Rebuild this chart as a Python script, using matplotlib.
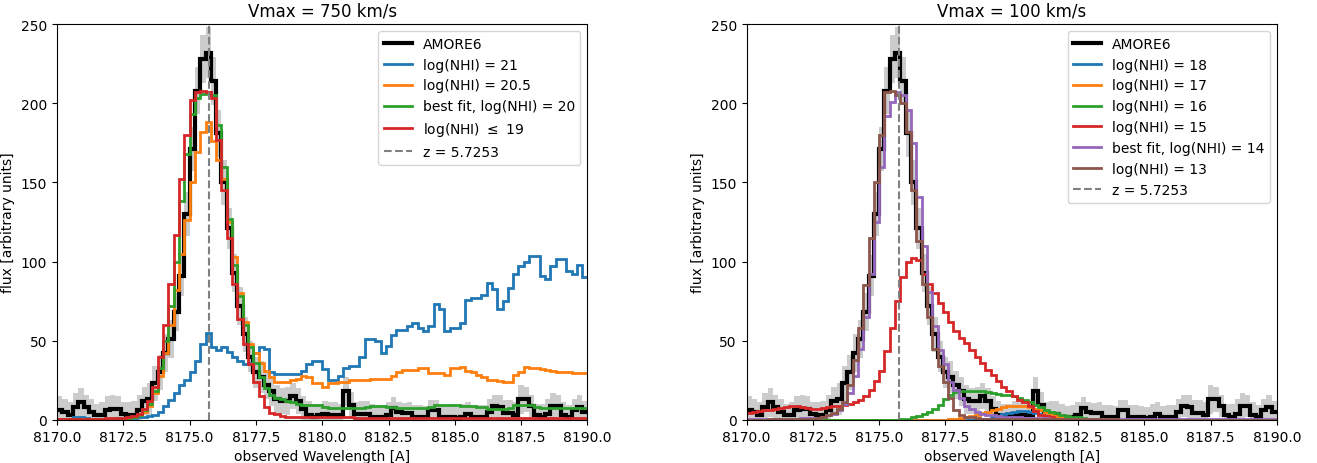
import numpy as np
import matplotlib.pyplot as plt

# wavelength bins (0.2 A wide) from 8170 to 8190
wl_start = 8170.0
bin_width = 0.2
n_bins = 100
edges = wl_start + bin_width * np.arange(n_bins + 1)

z_lya = 5.7253
lya_obs = 1215.67 * (1 + z_lya)

# observed spectrum (same in both panels) and its error
obs = [6, 5, 3, 8, 11, 8, 5, 3, 3, 6,
       7, 7, 4, 3, 3, 6, 12, 13, 23, 30,
       42, 51, 68, 91, 130, 171, 208, 228, 232, 214,
       181, 150, 121, 93, 72, 54, 40, 30, 27, 22,
       18, 13, 12, 12, 15, 12, 7, 3, 2, 3,
       4, 3, 3, 3, 18, 9.5, 4, 4, 4, 2,
       1.5, 1.5, 3, 7.4, 5, 4.5, 4.5, 1.5, 1.5, 1.5,
       6.5, 6.5, 1.5, 1.5, 1.5, 1, 2, 4, 1.5, 1.5,
       1.5, 5, 9, 8, 4.5, 4.5, 3, 13, 13, 9,
       3, 2, 4, 9, 9, 3, 1.5, 6, 8, 5]
err = [9, 8, 8, 9, 9, 8, 8, 7, 8, 9,
       9, 8, 7, 8, 9, 10, 9, 10, 11, 11,
       12, 12, 12, 13, 14, 14, 15, 15, 16, 15,
       15, 14, 13, 12, 12, 11, 10, 10, 10, 9,
       9, 9, 8, 9, 8, 8, 8, 9, 8, 7,
       8, 8, 8, 7, 9, 8, 7, 8, 8, 8,
       7, 8, 8, 7, 6, 6, 7, 8, 8, 7,
       6, 6, 8, 8, 7, 7, 8, 7, 7, 8,
       8, 8, 7, 8, 8, 8, 8, 9, 8, 7,
       7, 8, 9, 8, 7, 8, 8, 7, 8, 7]

# Vmax = 750 km/s models
v750_n21 = [0.5, 0.5, 0.6, 1.5, 1.5, 1, 0.8, 0.7, 0.7, 0.8,
            0.8, 0.9, 1, 1, 1.2, 1.5, 2, 2.5, 3, 5,
            8.5, 12.7, 17, 22, 25, 30, 37, 48, 55, 46,
            44, 46, 43, 40, 37, 35, 36, 42, 46, 45,
            30, 29, 29, 29, 29, 29, 30.7, 35, 37, 37,
            32, 25.4, 25.4, 27.5, 32.8, 33.8, 34, 40, 51, 51,
            49.7, 42.3, 46.5, 53.9, 57, 57, 59, 61.3, 58.2, 56,
            59, 73, 69.8, 56, 58, 58, 61, 76, 77, 77,
            79, 86.7, 82.5, 69.8, 75, 83.5, 92, 97, 100, 103.6,
            103.6, 91, 89, 97, 101.5, 101.5, 94, 92, 98, 90]
v750_n205 = [0.3, 0.3, 0.3, 0.4, 0.4, 0.4, 0.5, 0.5, 0.6, 0.6,
             0.7, 0.8, 1.0, 1.2, 1.5, 3, 5, 9, 17, 28,
             42, 60, 82, 105, 126, 150, 169, 182, 188, 176,
             164, 152, 125, 103, 80, 62, 48, 42, 36, 31,
             27, 24, 24, 24, 25, 26, 27.5, 27, 23.3, 23,
             21, 23, 23, 24, 24, 25, 25, 25, 25, 26,
             26, 26, 26, 28, 30.4, 31.5, 31.5, 31.5, 32.5, 32.5,
             29.6, 29.6, 29.6, 28.5, 32.5, 33, 33.6, 31, 30, 28.5,
             27, 25, 25, 24.5, 24, 24, 28.5, 30, 33.6, 33,
             32.5, 32, 31.5, 31, 30.5, 30.5, 30, 29.6, 29.6, 29.6]
v750_n20 = [0.4, 0.4, 0.4, 0.5, 0.5, 0.5, 0.6, 0.6, 0.7, 0.7,
            0.8, 0.9, 1.0, 1.2, 1.5, 3, 6, 10, 18, 33,
            50, 72, 100, 138, 168, 193, 203, 206, 207, 205,
            186, 160, 127, 98, 78, 60, 46, 36, 27, 20,
            16, 14, 13, 12, 11, 10, 9.5, 9.5, 9.4, 9.2,
            7.8, 7.5, 7.4, 7.5, 7.6, 7.5, 7.4, 7.5, 7.8, 8.5,
            8.6, 8.5, 8.4, 8, 7.6, 7.4, 7.4, 7.5, 7.6, 7.5,
            7.8, 9.2, 9.5, 9.5, 9.4, 9.2, 8.7, 8.5, 8.5, 8.4,
            8.2, 7, 6.8, 6.7, 6.8, 7.2, 9.2, 9.5, 9.5, 9.3,
            8, 7.6, 7.5, 7.4, 7.4, 7.5, 7.6, 7.5, 7.4, 7.5]
v750_n19 = [0.5, 0.5, 0.5, 0.6, 0.6, 0.6, 0.7, 0.7, 0.8, 0.9,
            1.0, 1.2, 1.4, 1.7, 2.5, 4, 7, 12, 21, 40,
            60, 86, 117, 152, 180, 202, 207, 208, 207, 203,
            177, 145, 115, 86, 64, 48, 35, 24, 15, 8,
            4.5, 3.5, 2.5, 2, 1.8, 1.6, 1.5, 1.5, 1.5, 1.5,
            1.5, 1.5, 1.5, 1.5, 1.5, 1.5, 1.4, 1.4, 1.4, 1.4,
            1.4, 1.4, 1.4, 1.4, 1.4, 1.3, 1.3, 1.3, 1.3, 1.3,
            1.3, 1.3, 1.3, 1.3, 1.3, 1.3, 1.3, 1.3, 1.2, 1.2,
            1.2, 1.2, 1.2, 1.2, 1.2, 1.2, 1.2, 1.2, 1.2, 1.2,
            1.2, 1.2, 1.2, 1.2, 1.2, 1.2, 1.2, 1.2, 1.2, 1.2]

# Vmax = 100 km/s models
v100_n18 = [0] * 44 + [0.3, 0.8, 1.5, 2.5, 3.5, 4.5, 5, 5.3, 5.3, 5,
                       4.5, 3.8, 3, 2.3, 1.7, 1.2, 0.9, 0.6, 0.4, 0.3,
                       0.2, 0.1] + [0] * 34
v100_n17 = [0] * 38 + [0.3, 0.5, 1, 1.5, 2.5, 3.2, 4.2, 5, 6, 7,
                       8, 8.5, 9, 9, 8.5, 8, 7, 6, 4.5, 3.5,
                       2.5, 2, 1.5, 1, 0.7, 0.5, 0.3] + [0] * 35
v100_n16 = [0] * 29 + [0.3, 0.8, 1.5, 2.5, 3.5, 5, 7, 9.5, 13, 15.5,
                       17.5, 18.5, 18.5, 18.5, 18.5, 18.3, 17.5, 17, 16.5, 16,
                       15.9, 15, 13.5, 12.7, 11, 9.5, 8, 6.3, 5, 4.2,
                       3, 2.5, 2, 1.5, 1, 0.7, 0.4] + [0] * 34
v100_n15 = [4.5, 5, 5.5, 6, 6.5, 7, 7.5, 8, 8.5, 8.5,
            8, 7.5, 7, 7, 7.5, 8, 8.5, 9, 9.5, 10,
            11, 12.5, 14.8, 19, 24.5, 30.8, 43.5, 58, 75, 90,
            100, 102, 101, 92, 86, 80, 74, 68, 62, 56,
            52, 48.5, 44.4, 40, 36, 31.7, 28.5, 24.3, 21, 18,
            14.8, 12.5, 11, 8.5, 5.3, 3.2, 2.5, 1.7, 0.8, 0.4,
            0.2, 0.1] + [0] * 38
v100_n14 = [0.3, 0.3, 0.3, 0.4, 0.4, 0.4, 0.5, 0.6, 0.7, 0.8,
            0.9, 1, 1, 1.2, 2, 3, 3.5, 6, 10, 17,
            28, 45, 65, 92, 125, 160, 192, 201, 207, 205,
            196, 175, 141, 110, 81, 59, 44, 35, 24, 19,
            14, 9, 7, 5, 4, 3.2, 2.8, 2.4, 2, 1.8,
            1.6, 1.5, 1.3, 1.2, 1.1, 1, 0.9, 0.8, 0.7, 0.6,
            0.5, 0.5, 0.5, 0.5, 0.4, 0.4, 0.4, 0.4, 0.4, 0.4,
            0.4, 0.4, 0.3, 0.3, 0.3, 0.3, 0.3, 0.3, 0.3, 0.3,
            0.3, 0.3, 0.3, 0.3, 0.3, 0.3, 0.3, 0.3, 0.3, 0.3,
            0.3, 0.3, 0.3, 0.3, 0.3, 0.3, 0.3, 0.3, 0.3, 0.3]
v100_n13 = [0.2, 0.2, 0.2, 0.2, 0.3, 0.3, 0.3, 0.3, 0.4, 0.4,
            0.5, 0.6, 0.8, 1, 1.7, 3.2, 4.5, 7, 11, 22,
            38, 58, 85, 115, 150, 180, 207, 208, 205, 200,
            182, 145, 113, 86, 65, 45, 34, 24, 14, 6.5,
            3.2, 1.7, 1.5, 1, 0.7, 0.5, 0.4, 0.4, 0.4, 0.4,
            0.4, 0.4, 0.4, 0.3, 0.3, 0.3, 0.3, 0.3, 0.3, 0.3,
            0.3, 0.3, 0.3, 0.3, 0.3, 0.3, 0.3, 0.3, 0.3, 0.3,
            0.2, 0.2, 0.2, 0.2, 0.2, 0.2, 0.2, 0.2, 0.2, 0.2,
            0.2, 0.2, 0.2, 0.2, 0.2, 0.2, 0.2, 0.2, 0.2, 0.2,
            0.2, 0.2, 0.2, 0.2, 0.2, 0.2, 0.2, 0.2, 0.2, 0.2]

panels = [
    ("Vmax = 750 km/s",
     [(v750_n21, 'C0', 'log(NHI) = 21'),
      (v750_n205, 'C1', 'log(NHI) = 20.5'),
      (v750_n20, 'C2', 'best fit, log(NHI) = 20'),
      (v750_n19, 'C3', r'log(NHI) $\leq$ 19')]),
    ("Vmax = 100 km/s",
     [(v100_n18, 'C0', 'log(NHI) = 18'),
      (v100_n17, 'C1', 'log(NHI) = 17'),
      (v100_n16, 'C2', 'log(NHI) = 16'),
      (v100_n15, 'C3', 'log(NHI) = 15'),
      (v100_n14, 'C4', 'best fit, log(NHI) = 14'),
      (v100_n13, 'C5', 'log(NHI) = 13')]),
]

obs = np.array(obs)
err = np.array(err)

fig, axes = plt.subplots(1, 2, figsize=(13.17, 4.64), dpi=100)
plt.subplots_adjust(left=0.0433, right=0.9696, bottom=0.093, top=0.946, wspace=0.30)

for ax, (title, models) in zip(axes, panels):
    handles = []
    # observed flux with error band
    ax.stairs(obs + err, edges, baseline=obs - err, fill=True,
              color='gray', alpha=0.4, lw=0)
    handles.append(ax.stairs(obs, edges, baseline=None, color='k', lw=3,
                             label='AMORE6'))
    for vals, col, lab in models:
        vals = np.array(vals, dtype=float)
        assert len(vals) == n_bins, lab
        handles.append(ax.stairs(vals, edges, baseline=None, color=col,
                                 lw=2, label=lab))
    handles.append(ax.axvline(lya_obs, color='gray', ls='--', lw=1.5,
                              label='z = 5.7253'))
    ax.set_xlim(8170, 8190)
    ax.set_ylim(0, 250)
    ax.set_title(title)
    ax.set_xlabel('observed Wavelength [A]')
    ax.set_ylabel('flux [arbitrary units]')
    ax.legend(handles=handles, loc='upper right')

plt.savefig('out.png')
